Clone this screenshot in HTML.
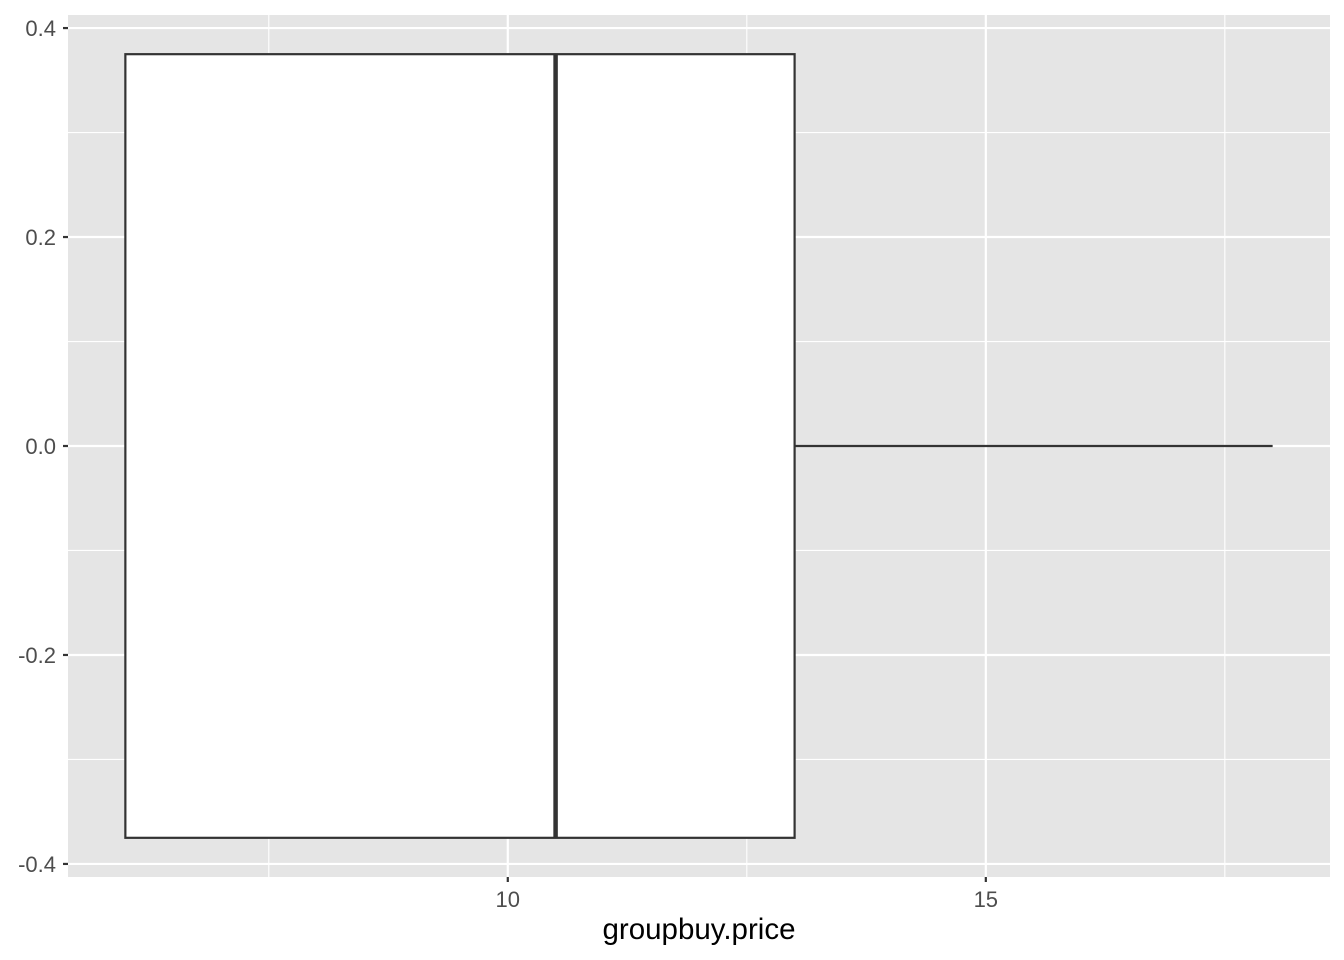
<!DOCTYPE html>
<html><head><meta charset="utf-8"><style>
body{margin:0;background:#fff;}
svg{display:block;font-family:"Liberation Sans",sans-serif;}
</style></head><body>
<svg id="chart" width="1344" height="960"></svg>
<script>
const xTicks=[10,15];
const xMinor=[7.5,12.5,17.5];
const yTicks=[-0.4,-0.2,0.0,0.2,0.4];
const yTickLabels=["-0.4","-0.2","0.0","0.2","0.4"];
const boxStats=[6.0,6.0,10.5,13.0,18.0]; // min, q1, median, q3, max
const boxHalfWidth=[0.375];
const xDomain=[5.4,18.6];
const yDomain=[-0.4125,0.4125];
const P={l:68,r:1330,t:15,b:877};
const sx=v=>P.l+(v-xDomain[0])/(xDomain[1]-xDomain[0])*(P.r-P.l);
const sy=v=>P.b-(v-yDomain[0])/(yDomain[1]-yDomain[0])*(P.b-P.t);
const svg=document.getElementById('chart');
const NS='http://www.w3.org/2000/svg';
function mk(t,a,p){const e=document.createElementNS(NS,t);for(const k in a)e.setAttribute(k,a[k]);(p||svg).appendChild(e);return e;}
let e=mk('rect',{x:P.l,y:P.t,width:P.r-P.l,height:P.b-P.t,fill:'#e5e5e5'});


for(let i=0;i<yTicks.length-1;i++){const v=(yTicks[i]+yTicks[i+1])/2;
e=mk('line',{x1:P.l,x2:P.r,y1:sy(v),y2:sy(v),stroke:'#fff','stroke-width':1.1});

}
xMinor.forEach(v=>{e=mk('line',{x1:sx(v),x2:sx(v),y1:P.t,y2:P.b,stroke:'#fff','stroke-width':1.1});

});
yTicks.forEach((v,i)=>{
e=mk('line',{x1:P.l,x2:P.r,y1:sy(v),y2:sy(v),stroke:'#fff','stroke-width':2.2});


e=mk('line',{x1:P.l-5,x2:P.l,y1:sy(v),y2:sy(v),stroke:'#333','stroke-width':2.2});


e=mk('text',{x:P.l-12,y:sy(v)+8,'text-anchor':'end','font-size':22,fill:'#4d4d4d'});
e.textContent=yTickLabels[i];

});
xTicks.forEach(v=>{
e=mk('line',{x1:sx(v),x2:sx(v),y1:P.t,y2:P.b,stroke:'#fff','stroke-width':2.2});


e=mk('line',{x1:sx(v),x2:sx(v),y1:P.b,y2:P.b+5,stroke:'#333','stroke-width':2.2});


e=mk('text',{x:sx(v),y:P.b+30,'text-anchor':'middle','font-size':22,fill:'#4d4d4d'});
e.textContent=String(v);

});
const [mn,q1,md,q3,mx]=boxStats;const hw=boxHalfWidth[0];
e=mk('line',{x1:sx(mn),x2:sx(q1),y1:sy(0),y2:sy(0),stroke:'#333','stroke-width':2.2});


e=mk('line',{x1:sx(q3),x2:sx(mx),y1:sy(0),y2:sy(0),stroke:'#333','stroke-width':2.2});


e=mk('rect',{x:sx(q1),y:sy(hw),width:sx(q3)-sx(q1),height:sy(-hw)-sy(hw),fill:'#fff',stroke:'#333','stroke-width':2.2});


e=mk('line',{x1:sx(md),x2:sx(md),y1:sy(hw),y2:sy(-hw),stroke:'#333','stroke-width':4.5});


e=mk('text',{x:(P.l+P.r)/2,y:939,'text-anchor':'middle','font-size':29.5,fill:'#000'});
e.textContent='groupbuy.price';


</script>
</body></html>
